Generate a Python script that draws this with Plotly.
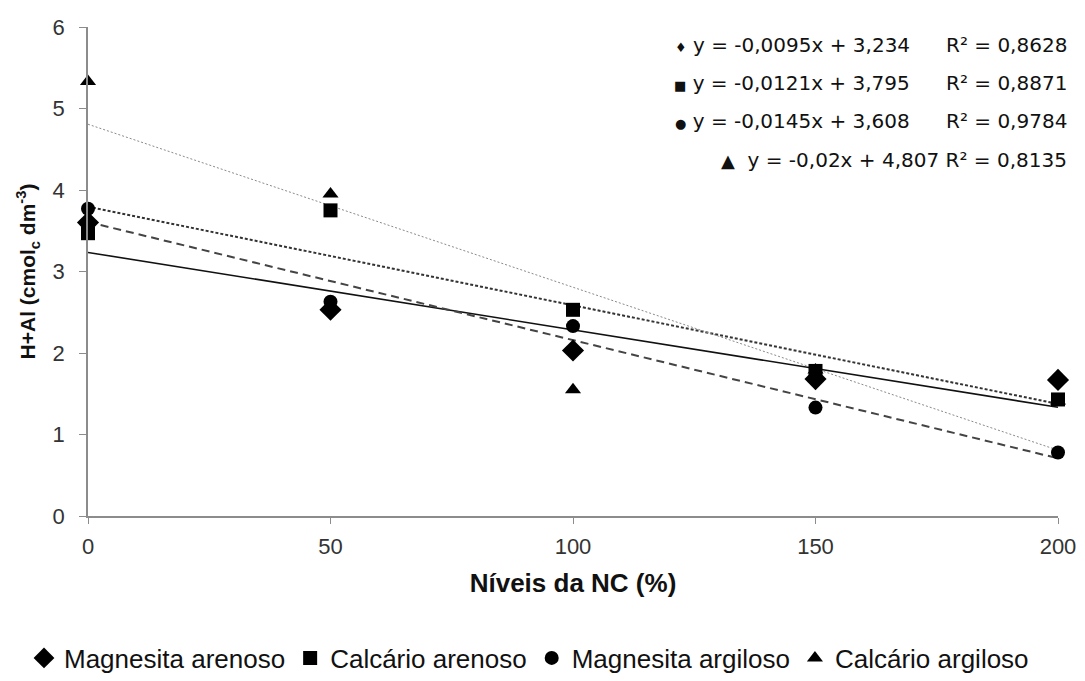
import plotly.graph_objects as go
import numpy as np

niveis = [0, 50, 100, 150, 200]
series_names = ["Magnesita arenoso", "Calcário arenoso", "Magnesita argiloso", "Calcário argiloso"]
mag_arenoso = [3.60, 2.53, 2.03, 1.68, 1.67]
cal_arenoso = [3.47, 3.75, 2.53, 1.78, 1.43]
mag_argiloso = [3.77, 2.63, 2.33, 1.33, 0.78]
cal_argiloso = [5.33, 3.95, 1.55, 1.79, 1.41]
slopes = [-0.0095, -0.0121, -0.0145, -0.02]
intercepts = [3.234, 3.795, 3.608, 4.807]
eq_texts = ["y = -0,0095x + 3,234", "y = -0,0121x + 3,795", "y = -0,0145x + 3,608", "y = -0,02x + 4,807"]
r2_texts = ["R² = 0,8628", "R² = 0,8871", "R² = 0,9784", "R² = 0,8135"]
eq_symbols = ["♦", "■", "●", "▲"]

values = [mag_arenoso, cal_arenoso, mag_argiloso, cal_argiloso]
symbols = ["diamond", "square", "circle", "triangle-up"]
sizes = [17, 14, 14, 14]
line_styles = [
    dict(color="#111111", width=1.6, dash="solid"),
    dict(color="#333333", width=2, dash="3px,2px"),
    dict(color="#444444", width=2, dash="8px,5px"),
    dict(color="#8a8a8a", width=1, dash="2px,2px"),
]

fig = go.Figure()
xs = np.array([min(niveis), max(niveis)], dtype=float)
for i in range(4):
    fig.add_trace(go.Scatter(x=xs, y=slopes[i] * xs + intercepts[i], mode="lines",
                             line=line_styles[i], showlegend=False, hoverinfo="skip"))
for i in range(4):
    fig.add_trace(go.Scatter(x=niveis, y=values[i], mode="markers", name=series_names[i],
                             marker=dict(symbol=symbols[i], size=sizes[i], color="black"),
                             cliponaxis=False))

# page has an 8px body margin; plot area targeted at page x 88..1058, y 27..516
W, H = 1069, 665
L, R, T, B = 80, 19, 19, 157
PL, PR, PT, PB = 88, 1058, 27, 516
def px(x): return (x - PL) / (PR - PL)
def py(y): return (PB - y) / (PB - PT)

eqfont = dict(size=20, color="#111", family="DejaVu Sans")
ann = []
rows_y = [45, 83, 121, 160]
for i in range(3):
    ann.append(dict(x=px(912), y=py(rows_y[i]), xref="paper", yref="paper", xanchor="right",
                    yanchor="middle", showarrow=False,
                    text=f"<span style='font-size:13px'>{eq_symbols[i]}</span> {eq_texts[i]}",
                    font=eqfont))
    ann.append(dict(x=px(1069), y=py(rows_y[i]), xref="paper", yref="paper", xanchor="right",
                    yanchor="middle", showarrow=False, text=r2_texts[i], font=eqfont))
ann.append(dict(x=px(1069), y=py(rows_y[3]), xref="paper", yref="paper", xanchor="right",
                yanchor="middle", showarrow=False,
                text=f"<span style='font-size:18px'>{eq_symbols[3]}</span>  {eq_texts[3]} {r2_texts[3]}",
                font=eqfont))

fig.update_layout(
    width=W, height=H,
    margin=dict(l=L, r=R, t=T, b=B, autoexpand=False),
    plot_bgcolor="white", paper_bgcolor="white",
    font=dict(family="Arial, Liberation Sans", color="#222"),
    xaxis=dict(range=[0, 200], tickvals=niveis, showgrid=False, zeroline=False,
               showline=True, linecolor="#8c8c8c", linewidth=1.5, ticks="outside",
               ticklen=6, tickcolor="#8c8c8c", tickfont=dict(size=22, color="#333"),
               ticklabelstandoff=4,
               title=dict(text="<b>Níveis da NC (%)</b>", font=dict(size=26, color="#111"), standoff=16)),
    yaxis=dict(range=[0, 6], dtick=1, showgrid=False, zeroline=False,
               showline=True, linecolor="#8c8c8c", linewidth=1.5, ticks="outside",
               ticklen=7, tickcolor="#8c8c8c", tickfont=dict(size=22, color="#333"),
               ticklabelstandoff=10,
               title=dict(text="<b>H+Al (cmol<sub>c</sub> dm<sup>-3</sup>)</b>",
                          font=dict(size=21, color="#111"), standoff=11)),
    legend=dict(orientation="h", x=px(24), xanchor="left", y=py(658), yanchor="middle",
                font=dict(size=26, color="#111"), itemwidth=30, tracegroupgap=0),
    annotations=ann,
)
fig.write_html("out.html")
